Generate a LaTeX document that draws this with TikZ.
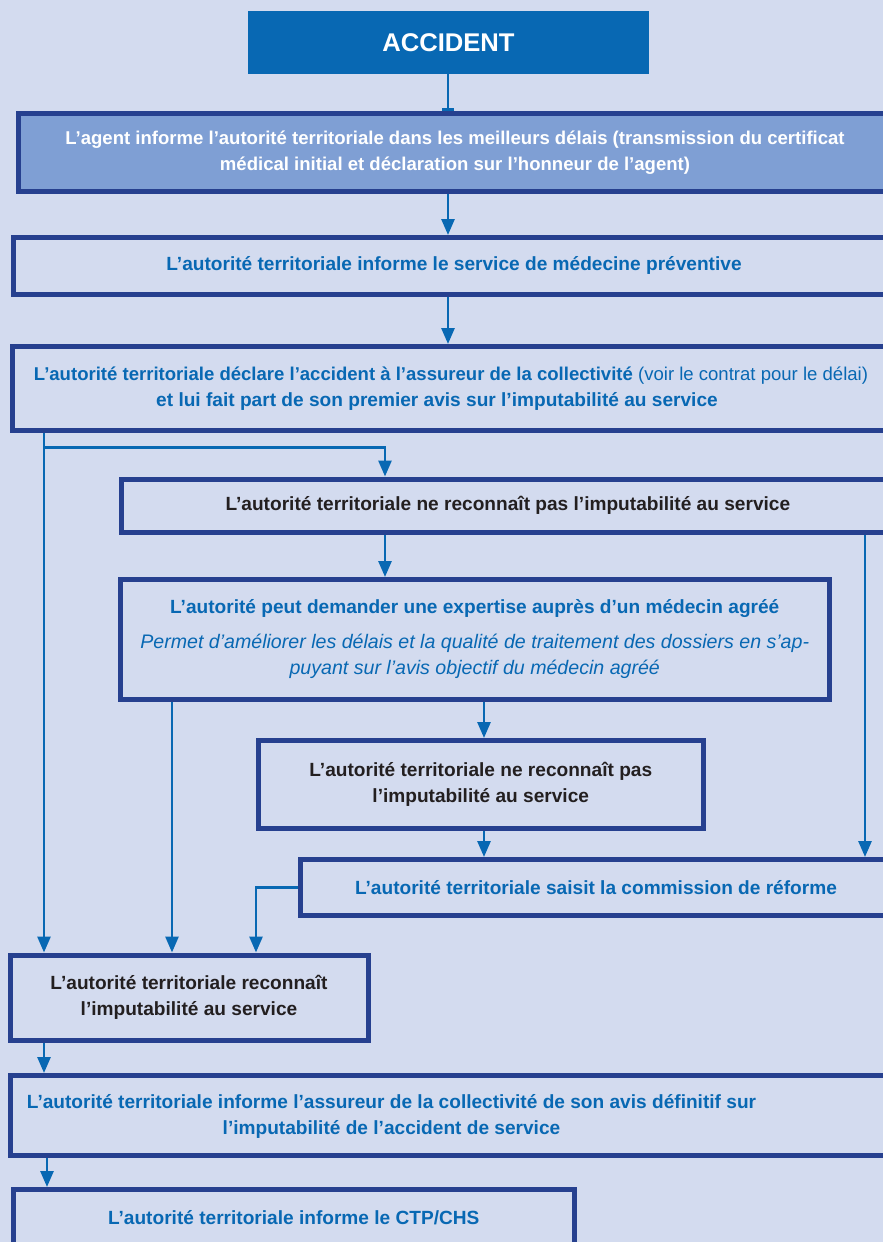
\documentclass[tikz,border=0pt]{standalone}
\usepackage{fontspec}
\setmainfont{Liberation Sans}
\usetikzlibrary{arrows.meta}
\definecolor{bgc}{RGB}{211,219,239}
\definecolor{navy}{RGB}{38,64,143}
\definecolor{cblue}{RGB}{8,104,179}
\definecolor{midfill}{RGB}{127,159,212}
\definecolor{dark}{RGB}{35,31,32}
\tikzset{
  box/.style={draw=navy, line width=5pt, rectangle, inner sep=0pt, align=center,
    font=\fontsize{19.1}{26}\selectfont\bfseries, text=cblue},
  widebox/.style={box, font=\fontsize{18.55}{26}\selectfont\bfseries},
  blackbox/.style={box, text=dark},
  conn/.style={draw=cblue, line width=2.8pt},
  arr/.style={conn, -{Triangle[width=13pt,length=16pt]}},
  txt/.style={inner sep=0pt, align=center, font=\fontsize{19.1}{26}\selectfont\bfseries, text=cblue}
}
\newcommand{\itl}[1]{{\fontsize{19.6}{26}\selectfont\mdseries\itshape #1}}
\begin{document}
\begin{tikzpicture}[x=1pt,y=-1pt]
\fill[bgc] (0,0) rectangle (883,1242);
\useasboundingbox (0,0) rectangle (883,1242);
\clip (0,0) rectangle (883,1242);

\node[fill=cblue, minimum width=401pt, minimum height=63pt, inner sep=0pt,
  text=white, font=\fontsize{25.6}{30}\selectfont\bfseries] (acc) at (448.5,42.3) {ACCIDENT};

\node[widebox, fill=midfill, text=white, minimum width=874pt, minimum height=78.5pt] (b2) at (455,152.25)
  {L’agent informe l’autorité territoriale dans les meilleurs délais (transmission du certificat\\
   médical initial et déclaration sur l’honneur de l’agent)};

\node[box, minimum width=882pt, minimum height=56.5pt] (b3) at (454,265.75)
  {L’autorité territoriale informe le service de médecine préventive};

\node[widebox, minimum width=878pt, minimum height=84pt] (b4) at (451,388.5)
  {L’autorité territoriale déclare l’accident à l’assureur de la collectivité {\mdseries (voir le contrat pour le délai)}\\
   {\fontsize{19.1}{26}\selectfont et lui fait part de son premier avis sur l’imputabilité au service}\hspace*{28pt}};

\node[blackbox, minimum width=772.3pt, minimum height=53pt] (b5) at (507.85,505.5)
  {L’autorité territoriale ne reconnaît pas l’imputabilité au service};

\node[box, minimum width=709.5pt, minimum height=120pt] (b6) at (474.75,639.5)
  {L’autorité peut demander une expertise auprès d’un médecin agréé\\[9pt]
   \itl{Permet d’améliorer les délais et la qualité de traitement des dossiers en s’ap-}\\
   \itl{puyant sur l’avis objectif du médecin agréé}};

\node[blackbox, minimum width=445.5pt, minimum height=88pt] (b7) at (480.75,784.5)
  {L’autorité territoriale ne reconnaît pas\\ l’imputabilité au service};

\node[box, minimum width=591pt, minimum height=56pt] (b8) at (596,887.5)
  {L’autorité territoriale saisit la commission de réforme};

\node[blackbox, minimum width=358pt, minimum height=85.5pt] (b9) at (189,997.75)
  {L’autorité territoriale reconnaît\\ l’imputabilité au service};

\node[box, minimum width=890pt, minimum height=80pt] (b10) at (455,1115.5) {};
\node[txt] (b10t) at (391.5,1116)
  {L’autorité territoriale informe l’assureur de la collectivité de son avis définitif sur\\
   l’imputabilité de l’accident de service};

\node[box, minimum width=561.5pt, minimum height=56.5pt] (b11) at (293.75,1217.75)
  {L’autorité territoriale informe le CTP/CHS};

% x positions of connectors
\coordinate (cx) at (448,0);
\coordinate (lx) at (44,0);
\coordinate (bx) at (385,0);
\coordinate (rx) at (865,0);
\coordinate (mx) at (484,0);
\coordinate (ex) at (172,0);
\coordinate (fx) at (256,0);
\coordinate (gx) at (47,0);
\coordinate (j) at (44,447.3);

\draw[conn, -{Bar[width=12pt,length=0pt]}] (cx |- acc.south) -- (cx |- b2.north);
\draw[arr] (cx |- b2.south) -- (cx |- b3.north);
\draw[arr] (cx |- b3.south) -- (cx |- b4.north);
\draw[arr] (lx |- b4.south) -- (lx |- b9.north);
\draw[arr] (j) -| (bx |- b5.north);
\draw[arr] (bx |- b5.south) -- (bx |- b6.north);
\draw[arr] (rx |- b5.south) -- (rx |- b8.north);
\draw[arr] (ex |- b6.south) -- (ex |- b9.north);
\draw[arr] (mx |- b6.south) -- (mx |- b7.north);
\draw[arr] (mx |- b7.south) -- (mx |- b8.north);
\draw[arr] (b8.west) -| (fx |- b9.north);
\draw[arr] (lx |- b9.south) -- (lx |- b10.north);
\draw[arr] (gx |- b10.south) -- (gx |- b11.north);
\end{tikzpicture}
\end{document}
